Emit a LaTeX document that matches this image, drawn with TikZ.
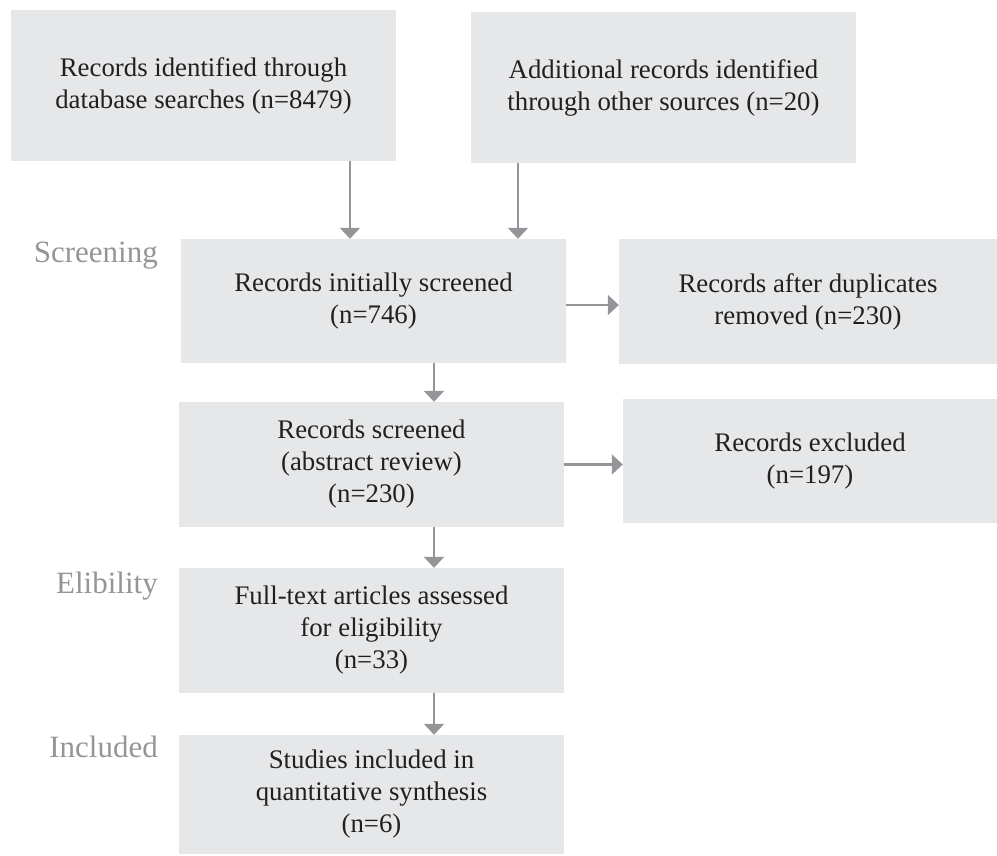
\documentclass[tikz,border=0pt]{standalone}
\usepackage{fontspec}
\setmainfont{Liberation Serif}
\usetikzlibrary{arrows.meta}
\definecolor{boxfill}{HTML}{E6E7E8}
\definecolor{arrgray}{HTML}{939598}
\definecolor{txt}{HTML}{231F20}
\tikzset{
  flowbox/.style={fill=boxfill, draw=none, inner sep=0pt, align=center,
    text=txt, font=\fontsize{26.8}{32}\selectfont},
  arr/.style={draw=arrgray, line width=2.2pt,
    -{Triangle[width=20pt,length=11pt]}},
  stage/.style={text=arrgray, inner sep=0pt, anchor=base east,
    font=\fontsize{31}{36}\selectfont}
}
\begin{document}
\begin{tikzpicture}[x=1pt,y=-1pt]
\useasboundingbox (0,0) rectangle (997,855);
\node[flowbox, minimum width=385pt, minimum height=151pt] (b1) at (203.5,85.5)
  {Records identified through\\database searches (n=8479)};
\node[flowbox, minimum width=385pt, minimum height=151pt] (b2) at (663.5,87.5)
  {Additional records identified\\through other sources (n=20)};
\node[flowbox, minimum width=385pt, minimum height=124pt] (b3) at (373.5,301)
  {Records initially screened\\(n=746)};
\node[flowbox, minimum width=378pt, minimum height=125pt] (b4) at (808,301.5)
  {Records after duplicates\\removed (n=230)};
\node[flowbox, minimum width=385pt, minimum height=125pt] (b5) at (371.5,464.5)
  {Records screened\\(abstract review)\\(n=230)};
\node[flowbox, minimum width=374pt, minimum height=124pt] (b6) at (810,461)
  {Records excluded\\(n=197)};
\node[flowbox, minimum width=385pt, minimum height=125pt] (b7) at (371.5,630.5)
  {Full-text articles assessed\\for eligibility\\(n=33)};
\node[flowbox, minimum width=385pt, minimum height=119pt] (b8) at (371.5,794.5)
  {Studies included in\\quantitative synthesis\\(n=6)};

\node[stage] (s1) at (158,262) {Screening};
\node[stage] (s2) at (158,593) {Elibility};
\node[stage] (s3) at (158,757) {Included};

\coordinate (c1) at ([xshift=146.5pt]b1.south);
\coordinate (c2) at ([xshift=-145.5pt]b2.south);
\coordinate (c3) at ([xshift=60.5pt]b3.south);
\coordinate (c5) at ([xshift=62.5pt]b5.south);
\coordinate (c7) at ([xshift=62.5pt]b7.south);
\draw[arr] (c1) -- (c1 |- b3.north);
\draw[arr] (c2) -- (c2 |- b3.north);
\draw[arr] ([yshift=-4pt]b3.east) -- ([yshift=-4pt]b3.east -| b4.west);
\draw[arr] (c3) -- (c3 |- b5.north);
\draw[arr] (b5.east) -- (b5.east -| b6.west);
\draw[arr] (c5) -- (c5 |- b7.north);
\draw[arr] (c7) -- (c7 |- b8.north);
\end{tikzpicture}
\end{document}
